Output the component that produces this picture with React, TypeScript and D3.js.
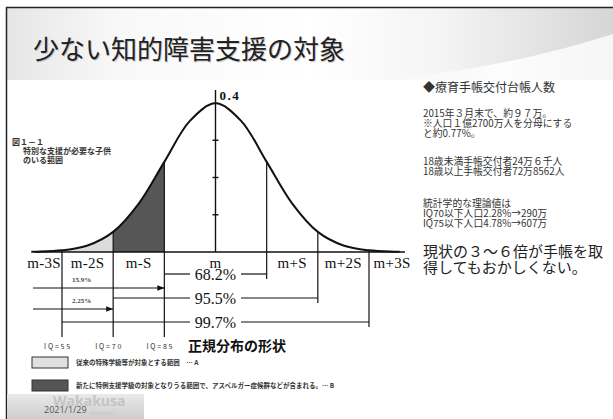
import React from "react";
import * as d3 from "d3";

// ---- data ----
const sigmaPoints = [-3.6, -3.5, -3, -2.5, -2, -1.5, -1, -0.5, 0, 0.5, 1, 1.5, 2, 2.5, 3, 3.5, 3.6];
const densityValues = [0.0006, 0.0009, 0.0044, 0.0175, 0.054, 0.13, 0.242, 0.352, 0.399, 0.352, 0.242, 0.13, 0.054, 0.0175, 0.0044, 0.0009, 0.0006];
const yTicks = [0.1, 0.2, 0.3];
const peakLabel = "0.4";
const sigmaLabels = ["m-3S", "m-2S", "m-S", "m", "m+S", "m+2S", "m+3S"];
const sigmaLabelPos = [-3.35, -2.5, -1.5, 0, 1.5, 2.5, 3.45];
const rangeLabels = ["68.2%", "95.5%", "99.7%"];
const rangeHalfWidths = [1, 2, 3];
const tailLabels = ["15.9%", "2.25%"];
const tailEnds = [-1, -2];
const iqLabels = ["IQ=55", "IQ=70", "IQ=85"];
const iqSigma = [-3, -2, -1];
const shadeLight = [-3, -2];
const shadeDark = [-2, -1];
const titleText = "少ない知的障害支援の対象";
const chartTitle = "正規分布の形状";
const captionLines = ["図１－１", "特別な支援が必要な子供", "のいる範囲"];
const legendTexts = [
  "従来の特殊学級等が対象とする範囲　… A",
  "新たに特例支援学級の対象となりうる範囲で、アスペルガー症候群などが含まれる。… B",
];
const noteHeader = "◆療育手帳交付台帳人数";
const noteLines1 = ["2015年３月末で、約９７万。", "※人口１億2700万人を分母にする", "と約0.77%。"];
const noteLines2 = ["18歳未満手帳交付者24万６千人", "18歳以上手帳交付者72万8562人"];
const noteLines3 = ["統計学的な理論値は", "IQ70以下人口2.28%→290万", "IQ75以下人口4.78%→607万"];
const noteBig = ["現状の３～６倍が手帳を取", "得してもおかしくない。"];
const logoText = "Wakakusa";
const logoSub = "association";
const dateText = "2021/1/29";

const W = 613;
const H = 419;

export default function App() {
  const x = d3.scaleLinear().domain([-3, 3]).range([62, 369]);
  const y = d3.scaleLinear().domain([0, 0.4]).range([252, 103]);
  const pts = sigmaPoints.map((s, i) => [s, densityValues[i]] as [number, number]);
  const line = d3
    .line<[number, number]>()
    .x((d) => x(d[0]))
    .y((d) => y(d[1]))
    .curve(d3.curveCatmullRom);
  const area = d3
    .area<[number, number]>()
    .x((d) => x(d[0]))
    .y0(y(0))
    .y1((d) => y(d[1]))
    .curve(d3.curveCatmullRom);
  const dens = (s: number) => densityValues[sigmaPoints.indexOf(s)];

  const rowY = [274, 298, 322];
  const tailY = [288, 309];
  const serif = "'Liberation Serif', 'DejaVu Serif', serif";
  const jp = "'Noto Sans CJK JP', 'Noto Sans', sans-serif";

  return (
    <svg
      width={W}
      height={H}
      viewBox={`0 0 ${W} ${H}`}
      style={{ position: "absolute", left: 0, top: 0, background: "#fff" }}
    >
      <defs>
        <linearGradient id="titleGrad" x1="0" y1="0" x2="1" y2="0">
          <stop offset="0" stopColor="#e6e6e6" />
          <stop offset="0.18" stopColor="#f8f8f8" />
          <stop offset="0.5" stopColor="#ffffff" />
          <stop offset="0.72" stopColor="#f4f4f4" />
          <stop offset="1" stopColor="#d6d6d6" />
        </linearGradient>
        <linearGradient id="swoosh" x1="0" y1="0" x2="1" y2="0">
          <stop offset="0" stopColor="#ffffff" stopOpacity="0" />
          <stop offset="0.5" stopColor="#ffffff" stopOpacity="0.9" />
          <stop offset="1" stopColor="#f6f6f6" stopOpacity="1" />
        </linearGradient>
        <linearGradient id="logoGrad" x1="0" y1="0" x2="0" y2="1">
          <stop offset="0" stopColor="#e9e9e9" />
          <stop offset="1" stopColor="#cdcdcd" />
        </linearGradient>
        <clipPath id="clipLight">
          <rect x={x(shadeLight[0])} y={0} width={x(shadeLight[1]) - x(shadeLight[0])} height={H} />
        </clipPath>
        <clipPath id="clipDark">
          <rect x={x(shadeDark[0])} y={0} width={x(shadeDark[1]) - x(shadeDark[0])} height={H} />
        </clipPath>
        <marker id="arrow" viewBox="0 0 10 10" refX="10" refY="5" markerWidth="7" markerHeight="7" orient="auto" markerUnits="userSpaceOnUse">
          <path d="M0,1 L10,5 L0,9 Z" fill="#111" />
        </marker>
      </defs>

      {/* slide background */}
      <rect x={7} y={8} width={W - 7} height={72} fill="url(#titleGrad)" />
      <path d="M380,80 Q500,70 613,34 L613,80 Z" fill="url(#swoosh)" />
      <line x1={6} y1={7.5} x2={W} y2={7.5} stroke="#222" strokeWidth={1.5} />
      <line x1={6.5} y1={7} x2={6.5} y2={H} stroke="#222" strokeWidth={1.5} />

      {/* title */}
      <text x={33} y={59} fontFamily={jp} fontSize={26} fontWeight={400} fill="#999" opacity={0.5} transform="translate(1,1)">
        {titleText}
      </text>
      <text x={33} y={59} fontFamily={jp} fontSize={26} fontWeight={400} fill="#222">
        {titleText}
      </text>

      {/* shaded regions */}
      <path d={area(pts) || ""} fill="#dcdcdc" clipPath="url(#clipLight)" />
      <path d={area(pts) || ""} fill="#565656" clipPath="url(#clipDark)" />

      {/* baseline */}
      <line x1={35} y1={y(0)} x2={405} y2={y(0)} stroke="#111" strokeWidth={1.6} />
      {/* vertical axis */}
      <line x1={x(0)} y1={90} x2={x(0)} y2={y(0)} stroke="#111" strokeWidth={1.4} />
      {yTicks.map((t) => (
        <line key={t} x1={x(0) - 3} x2={x(0) + 3} y1={y(t)} y2={y(t)} stroke="#111" strokeWidth={1.4} />
      ))}
      <text x={x(0) + 4} y={100} fontFamily={serif} fontSize={13} fontWeight={700} letterSpacing={1.5} fill="#111">
        {peakLabel}
      </text>

      {/* sigma verticals */}
      {iqSigma.map((s) => (
        <line key={"l" + s} x1={x(s)} x2={x(s)} y1={y(dens(s))} y2={337} stroke="#111" strokeWidth={1.2} />
      ))}
      {rangeHalfWidths.map((h, i) => (
        <line key={"r" + h} x1={x(h)} x2={x(h)} y1={y(dens(h))} y2={rowY[i] + 5} stroke="#111" strokeWidth={1.2} />
      ))}

      {/* curve */}
      <path d={line(pts) || ""} fill="none" stroke="#111" strokeWidth={2} />

      {/* sigma labels */}
      {sigmaLabels.map((l, i) => (
        <text key={l} x={x(sigmaLabelPos[i])} y={268} textAnchor="middle" fontFamily={serif} fontSize={15} letterSpacing={0.3} fill="#111">
          {l}
        </text>
      ))}

      {/* range brackets */}
      {rangeLabels.map((l, i) => (
        <g key={l}>
          <line x1={x(-rangeHalfWidths[i])} x2={190} y1={rowY[i]} y2={rowY[i]} stroke="#111" strokeWidth={1.2} />
          <line x1={241} x2={x(rangeHalfWidths[i])} y1={rowY[i]} y2={rowY[i]} stroke="#111" strokeWidth={1.2} />
          <text x={x(0)} y={rowY[i] + 6} textAnchor="middle" fontFamily={serif} fontSize={16} fill="#111">
            {l}
          </text>
        </g>
      ))}

      {/* tail arrows */}
      {tailLabels.map((l, i) => (
        <g key={l}>
          <line x1={33} x2={x(tailEnds[i])} y1={tailY[i]} y2={tailY[i]} stroke="#111" strokeWidth={1} markerEnd="url(#arrow)" />
          <text x={72} y={tailY[i] - 6.5} fontFamily={serif} fontSize={7} fontWeight={700} fill="#444">
            {l}
          </text>
        </g>
      ))}

      {/* IQ labels */}
      {iqLabels.map((l, i) => (
        <text key={l} x={x(iqSigma[i]) - 4} y={349} textAnchor="middle" fontFamily={jp} fontSize={7} letterSpacing={1.8} fill="#333">
          {l}
        </text>
      ))}
      <text x={188} y={351} fontFamily={jp} fontSize={14} fontWeight={700} fill="#111">
        {chartTitle}
      </text>

      {/* legend */}
      <rect x={32} y={357} width={36} height={11} fill="#e0e0e0" stroke="#333" strokeWidth={1} />
      <rect x={32} y={380} width={36} height={11} fill="#555" stroke="#333" strokeWidth={1} />
      <text x={76} y={364.5} fontFamily={jp} fontSize={6.5} fontWeight={700} fill="#333">
        {legendTexts[0]}
      </text>
      <text x={76} y={387.5} fontFamily={jp} fontSize={6.5} fontWeight={700} fill="#333">
        {legendTexts[1]}
      </text>

      {/* caption */}
      {captionLines.map((l, i) => (
        <text key={l} x={i === 0 ? 12 : 23} y={145 + i * 9} fontFamily={jp} fontSize={8} fontWeight={700} fill="#333">
          {l}
        </text>
      ))}

      {/* notes on the right */}
      <g fontFamily={jp} fill="#333">
        <text x={423} y={92} fontSize={12}>{noteHeader}</text>
        {noteLines1.map((l, i) => (
          <text key={l} x={423} y={116.5 + i * 10} fontSize={9.8}>{l}</text>
        ))}
        {noteLines2.map((l, i) => (
          <text key={l} x={423} y={164.5 + i * 10} fontSize={9.8}>{l}</text>
        ))}
        {noteLines3.map((l, i) => (
          <text key={l} x={423} y={206.5 + i * 10} fontSize={9.8}>{l}</text>
        ))}
        {noteBig.map((l, i) => (
          <text key={l} x={423} y={257 + i * 16} fontSize={15} fill="#222">{l}</text>
        ))}
      </g>

      {/* logo */}
      <rect x={7} y={394} width={137} height={25} fill="url(#logoGrad)" />
      <text x={53} y={406} fontFamily="'Open Sans', 'DejaVu Sans', sans-serif" fontSize={14} fontWeight={700} fill="#c4c4c4">
        {logoText}
      </text>
      <text x={90} y={415} fontFamily="'Open Sans', sans-serif" fontSize={4.5} fill="#c4c4c4">
        {logoSub}
      </text>
      <text x={44} y={413} fontFamily="'Open Sans', 'DejaVu Sans', sans-serif" fontSize={9} fill="#555">
        {dateText}
      </text>
    </svg>
  );
}
